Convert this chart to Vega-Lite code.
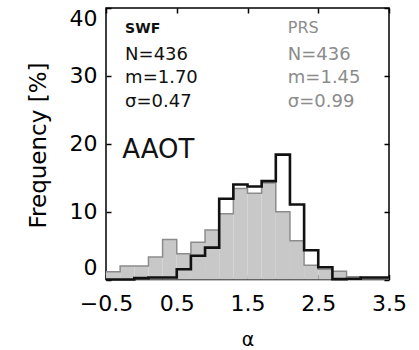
{
  "$schema": "https://vega.github.io/schema/vega-lite/v6.json",
  "width": 283,
  "height": 271.5,
  "autosize": "none",
  "padding": {"left": 106, "top": 8, "right": 30, "bottom": 70.5},
  "config": {
    "view": {"stroke": "black", "strokeWidth": 1.5},
    "font": "DejaVu Sans",
    "axis": {"grid": false, "domain": false, "tickColor": "black", "tickWidth": 1.5, "labelColor": "black", "titleColor": "black", "titleFontWeight": "normal"}
  },
  "datasets": {
    "hist": [
      {"lo": -0.5, "hi": -0.3, "swf": 0.0, "prs": 1.15},
      {"lo": -0.3, "hi": -0.1, "swf": 0.0, "prs": 2.0},
      {"lo": -0.1, "hi": 0.1, "swf": 0.2, "prs": 2.0},
      {"lo": 0.1, "hi": 0.3, "swf": 0.3, "prs": 3.3},
      {"lo": 0.3, "hi": 0.5, "swf": 0.3, "prs": 5.9},
      {"lo": 0.5, "hi": 0.7, "swf": 1.5, "prs": 3.8},
      {"lo": 0.7, "hi": 0.9, "swf": 3.5, "prs": 5.5},
      {"lo": 0.9, "hi": 1.1, "swf": 4.7, "prs": 7.3},
      {"lo": 1.1, "hi": 1.3, "swf": 11.9, "prs": 9.7},
      {"lo": 1.3, "hi": 1.5, "swf": 14.0, "prs": 13.4},
      {"lo": 1.5, "hi": 1.7, "swf": 13.7, "prs": 12.7},
      {"lo": 1.7, "hi": 1.9, "swf": 14.5, "prs": 14.2},
      {"lo": 1.9, "hi": 2.1, "swf": 18.4, "prs": 10.0},
      {"lo": 2.1, "hi": 2.3, "swf": 11.05, "prs": 5.7},
      {"lo": 2.3, "hi": 2.5, "swf": 4.3, "prs": 2.1},
      {"lo": 2.5, "hi": 2.7, "swf": 1.8, "prs": 1.5},
      {"lo": 2.7, "hi": 2.9, "swf": 0.05, "prs": 1.2},
      {"lo": 2.9, "hi": 3.1, "swf": 0.1, "prs": 0.4},
      {"lo": 3.1, "hi": 3.3, "swf": 0.3, "prs": 0.25},
      {"lo": 3.3, "hi": 3.5, "swf": 0.3, "prs": 0.25}
    ],
    "swfnotes": [
      {"x": -0.23, "y": 25.4, "label": "σ=0.47"},
      {"x": -0.23, "y": 28.9, "label": "m=1.70"},
      {"x": -0.23, "y": 32.3, "label": "N=436"}
    ],
    "prsnotes": [
      {"x": 2.07, "y": 25.4, "label": "σ=0.99"},
      {"x": 2.07, "y": 28.9, "label": "m=1.45"},
      {"x": 2.07, "y": 32.3, "label": "N=436"}
    ]
  },
  "layer": [
    {
      "data": {"name": "hist"},
      "mark": {"type": "rect", "color": "#c8c8c8"},
      "encoding": {
        "x": {"field": "lo", "type": "quantitative", "scale": {"domain": [-0.5, 3.5], "nice": false, "zero": false},
          "axis": {"orient": "bottom", "values": [-0.5, 0.5, 1.5, 2.5, 3.5], "format": ".1f", "tickSize": -5, "labelPadding": 19, "labelFontSize": 22, "labelOverlap": false, "labelFlush": false, "title": "α", "titleFontSize": 19, "titleX": 141.5, "titleY": 69.5, "titleBaseline": "bottom"}},
        "x2": {"field": "hi"},
        "y": {"field": "prs", "type": "quantitative", "scale": {"domain": [0, 40], "nice": false},
          "axis": {"orient": "left", "values": [0, 10, 20, 30, 40], "tickSize": -5, "labelPadding": 14, "labelFlush": true, "labelFontSize": 22, "labelOverlap": false, "title": "Frequency [%]", "titleFontSize": 23, "titleX": -68, "titleY": 137, "titleBaseline": "middle", "titleAlign": "center", "titleAngle": -90}},
        "y2": {"datum": 0}
      }
    },
    {
      "data": {"name": "hist"},
      "transform": [{"fold": ["lo", "hi"], "as": ["side", "xv"]}],
      "mark": {"type": "line", "stroke": "#8c8c8c", "strokeWidth": 1.5},
      "encoding": {
        "x": {"field": "xv", "type": "quantitative", "scale": {"domain": [-0.5, 3.5], "nice": false, "zero": false}, "axis": null},
        "y": {"field": "prs", "type": "quantitative", "scale": {"domain": [0, 40], "nice": false}, "axis": null},
        "order": [{"field": "xv", "type": "quantitative"}, {"field": "side", "type": "nominal"}]
      }
    },
    {
      "data": {"name": "hist"},
      "transform": [{"fold": ["lo", "hi"], "as": ["side", "xv"]}],
      "mark": {"type": "line", "stroke": "#111111", "strokeWidth": 2.6},
      "encoding": {
        "x": {"field": "xv", "type": "quantitative", "scale": {"domain": [-0.5, 3.5], "nice": false, "zero": false},
          "axis": {"orient": "top", "values": [-0.5, 0.5, 1.5, 2.5, 3.5], "labels": false, "tickSize": -5, "title": null}},
        "y": {"field": "swf", "type": "quantitative", "scale": {"domain": [0, 40], "nice": false},
          "axis": {"orient": "right", "values": [0, 10, 20, 30, 40], "labels": false, "tickSize": -5, "title": null}},
        "order": [{"field": "xv", "type": "quantitative"}, {"field": "side", "type": "nominal"}]
      }
    },
    {
      "data": {"values": [{"x": -0.23, "y": 36.3, "label": "SWF"}]},
      "mark": {"type": "text", "align": "left", "baseline": "alphabetic", "fontSize": 14, "fontWeight": "bold", "color": "#111111"},
      "encoding": {
        "x": {"field": "x", "type": "quantitative", "axis": null},
        "y": {"field": "y", "type": "quantitative", "axis": null},
        "text": {"field": "label"}
      }
    },
    {
      "data": {"values": [{"x": 2.07, "y": 36.3, "label": "PRS"}]},
      "mark": {"type": "text", "align": "left", "baseline": "alphabetic", "fontSize": 16, "color": "#8c8c8c"},
      "encoding": {
        "x": {"field": "x", "type": "quantitative", "axis": null},
        "y": {"field": "y", "type": "quantitative", "axis": null},
        "text": {"field": "label"}
      }
    },
    {
      "data": {"name": "swfnotes"},
      "mark": {"type": "text", "align": "left", "baseline": "alphabetic", "fontSize": 18, "color": "#111111"},
      "encoding": {
        "x": {"field": "x", "type": "quantitative", "axis": null},
        "y": {"field": "y", "type": "quantitative", "axis": null},
        "text": {"field": "label"}
      }
    },
    {
      "data": {"name": "prsnotes"},
      "mark": {"type": "text", "align": "left", "baseline": "alphabetic", "fontSize": 18, "color": "#8c8c8c"},
      "encoding": {
        "x": {"field": "x", "type": "quantitative", "axis": null},
        "y": {"field": "y", "type": "quantitative", "axis": null},
        "text": {"field": "label"}
      }
    },
    {
      "data": {"values": [{"x": -0.27, "y": 17.9, "label": "AAOT"}]},
      "mark": {"type": "text", "align": "left", "baseline": "alphabetic", "fontSize": 26, "color": "#111111"},
      "encoding": {
        "x": {"field": "x", "type": "quantitative", "axis": null},
        "y": {"field": "y", "type": "quantitative", "axis": null},
        "text": {"field": "label"}
      }
    }
  ],
  "resolve": {"axis": {"x": "independent", "y": "independent"}}
}
